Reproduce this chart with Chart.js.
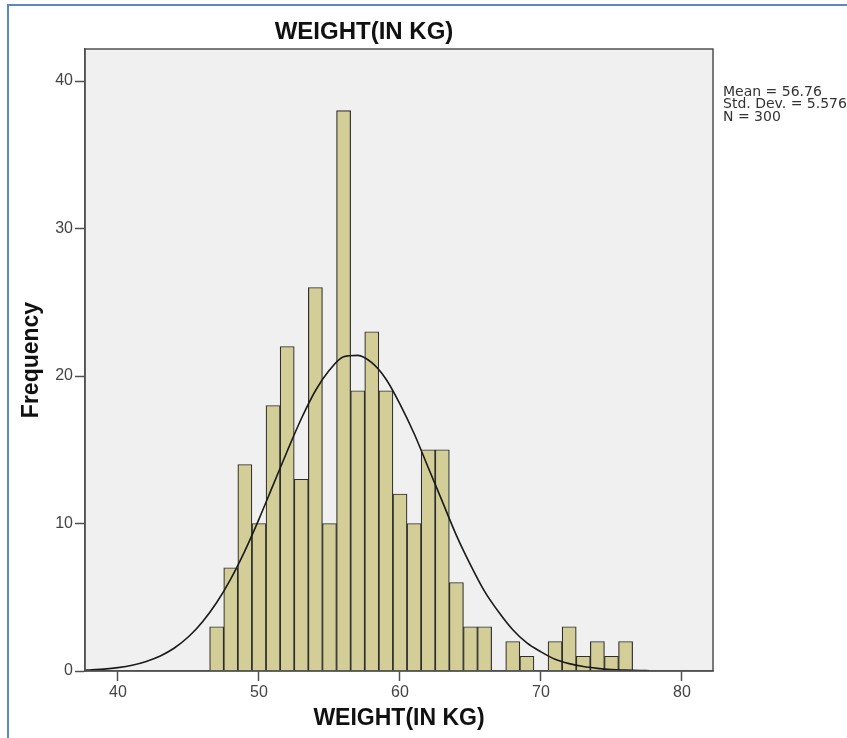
<!DOCTYPE html>
<html>
<head>
<meta charset="utf-8">
<script src="https://cdn.jsdelivr.net/npm/chart.js@4.4.1/dist/chart.umd.min.js"></script>
<style>
  html, body { margin: 0; padding: 0; background: #ffffff; }
  #wrap { width: 847px; height: 738px; position: relative; }
</style>
</head>
<body>
<div id="wrap"><canvas id="c" width="847" height="738"></canvas></div>
<script>
// Histogram bins (1 kg wide, centred on integer weights)
const binCenters = [47,48,49,50,51,52,53,54,55,56,57,58,59,60,61,62,63,64,65,66,67,68,69,70,71,72,73,74,75,76];
const frequencies = [3,7,14,10,18,22,13,26,10,38,19,23,19,12,10,15,15,6,3,3,0,2,1,0,2,3,1,2,1,2];

// Normal curve
const curveX = [37.7,38,39,40,41,42,43,44,45,46,47,48,49,50,51,52,53,54,55,56,57,58,59,60,61,62,63,64,65,66,67,68,69,70,71,72,73,74,75,76,77,77.7];
const curveY = [0.05,0.07,0.13,0.23,0.39,0.65,1.02,1.56,2.32,3.34,4.64,6.25,8.15,10.3,12.6,14.9,17.1,19.0,20.4,21.3,21.4,20.9,19.8,18.1,16.1,13.8,11.5,9.2,7.2,5.4,4.0,2.8,1.9,1.3,0.8,0.5,0.3,0.18,0.1,0.06,0.03,0.02];

const xTicks = [40,50,60,70,80];
const yTicks = [0,10,20,30,40];

const chartTitle = 'WEIGHT(IN KG)';
const xTitle = 'WEIGHT(IN KG)';
const yTitle = 'Frequency';
const statsLines = ['Mean = 56.76', 'Std. Dev. = 5.576', 'N = 300'];

const barData = binCenters.map((x, i) => ({ x: x, y: frequencies[i] }));
const curveData = curveX.map((x, i) => ({ x: x, y: curveY[i] }));

const SANS = '"Liberation Sans", Arial, sans-serif';

const decorPlugin = {
  id: 'decor',
  beforeDraw(chart) {
    const ctx = chart.ctx;
    const a = chart.chartArea;
    ctx.save();
    ctx.fillStyle = '#ffffff';
    ctx.fillRect(0, 0, chart.width, chart.height);
    ctx.strokeStyle = '#5a87c8';
    ctx.lineWidth = 2;
    ctx.beginPath();
    ctx.moveTo(8, chart.height);
    ctx.lineTo(8, 5);
    ctx.lineTo(chart.width, 5);
    ctx.stroke();
    ctx.fillStyle = '#f0f0f0';
    ctx.fillRect(a.left, a.top, a.right - a.left, a.bottom - a.top);
    ctx.restore();
  },
  afterDraw(chart) {
    const ctx = chart.ctx;
    const a = chart.chartArea;
    ctx.save();
    ctx.strokeStyle = '#505050';
    ctx.lineWidth = 1.5;
    ctx.strokeRect(a.left, a.top, a.right - a.left, a.bottom - a.top);
    ctx.fillStyle = '#333333';
    ctx.font = '14px "DejaVu Sans", sans-serif';
    ctx.textBaseline = 'middle';
    ctx.textAlign = 'left';
    statsLines.forEach((t, i) => ctx.fillText(t, a.right + 10, 92 + i * 12.5));
    ctx.restore();
  }
};

new Chart(document.getElementById('c'), {
  data: {
    datasets: [
      {
        type: 'line',
        data: curveData,
        borderColor: '#1a1a1a',
        borderWidth: 1.6,
        pointRadius: 0,
        fill: false,
        cubicInterpolationMode: 'monotone',
        order: 0
      },
      {
        type: 'bar',
        data: barData,
        backgroundColor: '#d3ce97',
        borderColor: '#2e2e2e',
        borderWidth: 1.2,
        barPercentage: 1,
        categoryPercentage: 1,
        grouped: false,
        order: 1
      }
    ]
  },
  options: {
    responsive: false,
    animation: false,
    layout: { padding: { left: 15, right: 134, top: 0, bottom: 0 } },
    plugins: {
      legend: { display: false },
      tooltip: { enabled: false },
      title: {
        display: true,
        text: chartTitle,
        color: '#111111',
        font: { family: SANS, size: 24, weight: 'bold', lineHeight: 1 },
        padding: { top: 20, bottom: 5 }
      }
    },
    scales: {
      x: {
        type: 'linear',
        min: 37.66,
        max: 82.2,
        offset: false,
        afterFit(s) { s.height = 67; },
        afterBuildTicks(s) { s.ticks = xTicks.map(v => ({ value: v })); },
        border: { display: true, color: '#505050', width: 1.5 },
        grid: { display: true, offset: false, drawOnChartArea: false, drawTicks: true, tickLength: 10, color: '#505050', tickWidth: 1.5 },
        ticks: {
          color: '#444444',
          font: { family: SANS, size: 16 },
          padding: 2,
          maxRotation: 0
        },
        title: {
          display: true,
          text: xTitle,
          color: '#111111',
          font: { family: SANS, size: 23, weight: 'bold' },
          padding: { top: 0, bottom: 6 }
        }
      },
      y: {
        type: 'linear',
        min: 0,
        max: 42.17,
        afterFit(s) { s.width = 70; },
        afterBuildTicks(s) { s.ticks = yTicks.map(v => ({ value: v })); },
        border: { display: true, color: '#505050', width: 1.5 },
        grid: { display: true, drawOnChartArea: false, drawTicks: true, tickLength: 10, color: '#505050', tickWidth: 1.5 },
        ticks: {
          color: '#444444',
          font: { family: SANS, size: 16 },
          padding: 2
        },
        title: {
          display: true,
          text: yTitle,
          color: '#111111',
          font: { family: SANS, size: 23, weight: 'bold' },
          padding: { top: 3, bottom: 0 }
        }
      }
    }
  },
  plugins: [decorPlugin]
});
</script>
</body>
</html>
